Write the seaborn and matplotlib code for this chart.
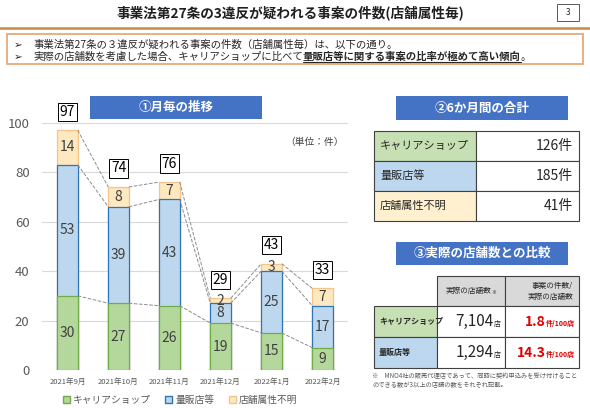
import matplotlib
matplotlib.use('Agg')
import matplotlib.pyplot as plt
from matplotlib.patches import Rectangle, Patch
import seaborn as sns
import pandas as pd

# monthly counts (件)
months = ['2021年9月', '2021年10月', '2021年11月', '2021年12月', '2022年1月', '2022年2月']
carrier = [30, 27, 26, 19, 15, 9]
mass = [53, 39, 43, 8, 25, 17]
unknown = [14, 8, 7, 2, 3, 7]
series_names = ['キャリアショップ', '量販店等', '店舗属性不明']

# actual number of stores (店)
store_names = ['キャリアショップ', '量販店等']
store_counts = [7104, 1294]

title = '事業法第27条の3違反が疑われる事案の件数(店舗属性毎)'
bullet1 = '事業法第27条の３違反が疑われる事案の件数（店舗属性毎）は、以下の通り。'
bullet2a = '実際の店舗数を考慮した場合、キャリアショップに比べて'
bullet2b = '量販店等に関する事案の比率が極めて高い傾向'
note1 = '※　MNO4社の販売代理店であって、同時に契約申込みを受け付けること'
note2 = 'のできる数が3以上の店舗の数をそれぞれ記載。'

sns.set_style('white')
plt.rcParams['font.family'] = ['Noto Sans CJK JP', 'DejaVu Sans']

df = pd.DataFrame({'month': months, 'carrier': carrier, 'mass': mass, 'unknown': unknown})
df['cm'] = df['carrier'] + df['mass']
df['total'] = df['cm'] + df['unknown']

W, H = 590, 408
fig = plt.figure(figsize=(W / 100, H / 100), dpi=100)


def px_axes(x0, y0, x1, y1):
    return fig.add_axes([x0 / W, 1 - y1 / H, (x1 - x0) / W, (y1 - y0) / H])


green, green_e = '#B4D89C', '#70AD47'
blue, blue_e = '#BDD7EE', '#2E75B6'
tan, tan_e = '#FDE8C0', '#F4C48A'
txt = '#404040'

# ---- stacked bar chart
ax = px_axes(42, 98, 348, 370)
for col, fc, ec in [('total', tan, tan_e), ('cm', blue, blue_e), ('carrier', green, green_e)]:
    sns.barplot(data=df, x='month', y=col, color=fc, edgecolor=ec, linewidth=0.9,
                width=0.4, saturation=1, errorbar=None, ax=ax)

# series lines between bars
for col in ['carrier', 'cm', 'total']:
    v = df[col].values
    for i in range(len(v) - 1):
        ax.plot([i + 0.2, i + 0.8], [v[i], v[i + 1]], ls='--', color='#8C8C8C', lw=0.7, zorder=3)

for i, r in df.iterrows():
    ax.text(i, r['carrier'] / 2, str(r['carrier']), ha='center', va='center', fontsize=10, color=txt, zorder=4)
    ax.text(i, r['carrier'] + r['mass'] / 2, str(r['mass']), ha='center', va='center', fontsize=10, color=txt, zorder=4)
    ax.text(i, r['cm'] + r['unknown'] / 2, str(r['unknown']), ha='center', va='center', fontsize=10, color=txt, zorder=4)
    ax.text(i, r['total'] + 7.5, str(r['total']), ha='center', va='center', fontsize=10, color='black', zorder=5,
            bbox=dict(boxstyle='square,pad=0.15', fc='white', ec='black', lw=0.7))

ax.set_ylim(0, 110)
ax.set_yticks(range(0, 101, 20))
ax.set_xlim(-0.5, 5.5)
ax.grid(axis='y', color='#D9D9D9', lw=0.8)
ax.set_axisbelow(True)
sns.despine(ax=ax, left=True, bottom=True)
ax.set_xlabel('')
ax.set_ylabel('')
ax.tick_params(axis='y', length=0, labelsize=9.5, labelcolor='#595959', pad=9)
ax.tick_params(axis='x', length=0, labelsize=5.5, labelcolor='#595959', pad=6)
ax.patch.set_alpha(0)

fig.legend(handles=[Patch(fc=green, ec=green_e), Patch(fc=blue, ec=blue_e), Patch(fc=tan, ec=tan_e)],
           labels=series_names, loc='center', bbox_to_anchor=(180 / W, 1 - 400 / H), ncol=3, frameon=False,
           fontsize=7, handlelength=0.7, handleheight=0.7, columnspacing=1.5, handletextpad=0.3,
           labelcolor='#595959')

# ---- slide overlay in pixel coordinates
ov = fig.add_axes([0, 0, 1, 1])
ov.set_xlim(0, W)
ov.set_ylim(H, 0)
ov.axis('off')
ov.patch.set_alpha(0)
fig.canvas.draw()
rend = fig.canvas.get_renderer()


def run(x, y, parts, align='left'):
    ts = [ov.text(0, y, s, va='baseline', **kw) for s, kw in parts]
    ws = [t.get_window_extent(rend).width for t in ts]
    cx = x if align == 'left' else x - sum(ws) if align == 'right' else x - sum(ws) / 2
    out = []
    for t, w in zip(ts, ws):
        t.set_x(cx)
        out.append((cx, cx + w))
        cx += w
    return out


def rect(x0, y0, x1, y1, **kw):
    ov.add_patch(Rectangle((x0, y0), x1 - x0, y1 - y0, **kw))


def header(x0, y0, x1, y1, s):
    rect(x0, y0, x1, y1, fc='#4472C4', ec='none')
    ov.text((x0 + x1) / 2, (y0 + y1) / 2, s, ha='center', va='center', color='white',
            fontsize=9, weight='bold')


ov.text(290, 13, title, ha='center', va='center', fontsize=9.8, weight='bold', color='#1F1F1F')
rect(557, 4, 579, 21, fill=False, ec='#595959', lw=0.7)
ov.text(568, 12.5, '3', ha='center', va='center', fontsize=6)
ov.plot([0, W], [27.5, 27.5], color='#C98A45', lw=1.8)

rect(7, 34, 583, 64, fill=False, ec='#E3A46E', lw=1.2)
ov.text(14, 44.5, '➢', va='center', fontsize=7.5, family='DejaVu Sans', color='#262626')
ov.text(33, 44.5, bullet1, va='center', fontsize=7.5, color='#262626')
ov.text(14, 57, '➢', va='center', fontsize=7.5, family='DejaVu Sans', color='#262626')
spans = run(33, 60, [(bullet2a, dict(fontsize=7.5, color='#262626')),
                     (bullet2b, dict(fontsize=7.5, color='#262626', weight='bold')),
                     ('。', dict(fontsize=7.5, color='#262626'))])
ov.plot([spans[1][0], spans[1][1]], [61.8, 61.8], color='#262626', lw=0.8)

header(90, 96, 262, 119, '①月毎の推移')
ov.text(344, 142, '（単位：件）', ha='right', va='center', fontsize=7, color='#404040')

# ---- table 2: six month totals
header(396, 96, 568, 120, '②6か月間の合計')
sums = [sum(carrier), sum(mass), sum(unknown)]
fills = ['#C6E0B4', '#BDD7EE', '#FFF0CF']
for k, (name, s, fc) in enumerate(zip(series_names, sums, fills)):
    y0 = 131 + 30 * k
    rect(374, y0, 476, y0 + 30, fc=fc, ec='#404040', lw=0.8)
    rect(476, y0, 579, y0 + 30, fc='white', ec='#404040', lw=0.8)
    ov.text(380, y0 + 15, name, va='center', fontsize=8, color='#262626')
    ov.text(573, y0 + 15, f'{s}件', ha='right', va='center', fontsize=10, color='#262626')

# ---- table 3: comparison with actual store counts
header(396, 242, 568, 265, '③実際の店舗数との比較')
rect(437, 276, 505, 306, fc='#D9D9D9', ec='#404040', lw=0.8)
rect(505, 276, 579, 306, fc='#D9D9D9', ec='#404040', lw=0.8)
run(471, 293.5, [('実際の店舗数', dict(fontsize=5.5, color='#262626')),
                 ('※', dict(fontsize=3.5, color='#262626'))], align='center')
ov.text(573, 286, '事案の件数/', ha='right', va='center', fontsize=5.5, color='#262626')
ov.text(573, 297, '実際の店舗数', ha='right', va='center', fontsize=5.5, color='#262626')
red = '#E00000'
for k, (name, n, s, fc) in enumerate(zip(store_names, store_counts, sums[:2], fills[:2])):
    y0 = 306 + 31 * k
    rect(374, y0, 437, y0 + 31, fc=fc, ec='#404040', lw=0.8)
    rect(437, y0, 505, y0 + 31, fc='white', ec='#404040', lw=0.8)
    rect(505, y0, 579, y0 + 31, fc='white', ec='#404040', lw=0.8)
    ov.text(379, y0 + 15.5, name, va='center', fontsize=5.8, weight='bold', color='#262626')
    run(501, y0 + 20, [(f'{n:,}', dict(fontsize=11, color='#262626')),
                       ('店', dict(fontsize=5, color='#262626'))], align='right')
    run(575, y0 + 20, [(f'{s / n * 100:.1f}', dict(fontsize=10, color=red, weight='bold')),
                       ('件/100店', dict(fontsize=5, color=red, weight='bold'))], align='right')

ov.text(372, 376, note1, va='center', fontsize=4.5, color='#595959')
ov.text(372, 385, note2, va='center', fontsize=4.5, color='#595959')

fig.savefig('out.png', dpi=100)
